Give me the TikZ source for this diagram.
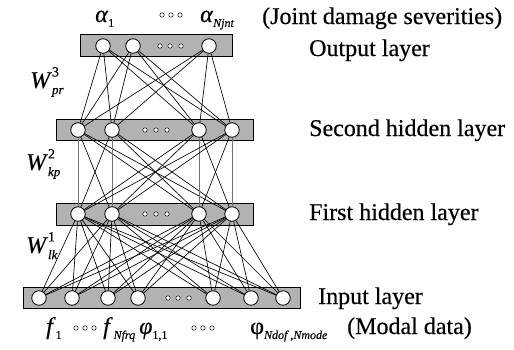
\documentclass[tikz,border=0pt]{standalone}
\usepackage{fontspec}
\setmainfont{Liberation Serif}[UprightFeatures={FakeBold=0.4},ItalicFeatures={FakeBold=0.4}]
% symbol with italic subscript
\newcommand{\symsub}[2]{#1\raisebox{-0.45ex}{\fontsize{12}{13}\selectfont\itshape #2}}
% weight symbol with stacked super- and subscript
\newcommand{\wsym}[2]{\textit{W}\makebox[0pt][l]{\raisebox{1.05ex}{\fontsize{14}{15}\selectfont #1}}\raisebox{-0.55ex}{\fontsize{13}{14}\selectfont\itshape #2}}
\begin{document}
\begin{tikzpicture}[x=1pt,y=-1pt,
  layerbox/.style={draw=black, line width=0.8pt, fill=black!30, inner sep=0pt},
  unit/.style={circle, draw=black, line width=0.8pt, fill=white, minimum size=14.5pt, inner sep=0pt},
  link/.style={line width=0.65pt},
  vlink/.style={line width=0.5pt, draw=black!55},
  ellip/.style={draw=black, line width=0.5pt, fill=white},
  lbl/.style={font=\fontsize{24}{28}\selectfont, anchor=base west, inner sep=0pt},
  mlbl/.style={font=\fontsize{24}{28}\selectfont, anchor=base west, inner sep=0pt}]
\useasboundingbox (0,0) rectangle (514,349);

% layer bars
\node[layerbox, minimum width=152pt, minimum height=22pt] (outbar) at (156,45) {};
\node[layerbox, minimum width=197pt, minimum height=21pt] (h2bar) at (154.5,129.5) {};
\node[layerbox, minimum width=197pt, minimum height=22pt] (h1bar) at (154.5,214) {};
\node[layerbox, minimum width=277pt, minimum height=21pt] (inbar) at (161.5,297.5) {};

% units
\foreach \x [count=\i] in {103,133,209} \node[unit] (o\i) at (\x,46) {};
\foreach \x [count=\i] in {78,112,199,232} \node[unit] (p\i) at (\x,130) {};
\foreach \x [count=\i] in {78,112,199,232} \node[unit] (k\i) at (\x,214) {};
\foreach \x [count=\i] in {39,72,108,138,213,251,283} \node[unit] (n\i) at (\x,298) {};

% ellipsis dots inside the bars
\foreach \x in {160,170,181} \draw[ellip] (\x,46) circle (2.2pt);
\foreach \x in {145,156,167} \draw[ellip] (\x,130) circle (2.2pt);
\foreach \x in {145,156,167} \draw[ellip] (\x,214) circle (2.2pt);
\foreach \x in {168,178,189} \draw[ellip] (\x,298) circle (2.2pt);

% connections
\foreach \a in {1,2,3} \foreach \b in {1,...,4} \draw[link] (o\a) -- (p\b);
\foreach \a in {1,...,4} \foreach \b in {1,...,4} {
  \ifnum\a=\b \draw[vlink] (p\a) -- (k\b); \else \draw[link] (p\a) -- (k\b); \fi
}
\foreach \a in {1,...,4} \foreach \b in {1,...,7} \draw[link] (k\a) -- (n\b);

% output labels
\node[mlbl] (a1) at (95,22) {\symsub{\textit{α}}{\upshape 1}};
\foreach \x in {162,171,180} \draw[ellip] (\x,15) circle (2.2pt);
\node[mlbl] (an) at (200,22) {\symsub{\textit{α}}{Njnt}};
\node[lbl] (tout) at (262,24) {(Joint damage severities)};

% layer names
\node[lbl] (lout) at (309,56) {Output layer};
\node[lbl] (lh2) at (309,136) {Second hidden layer};
\node[lbl] (lh1) at (309,220) {First hidden layer};
\node[lbl] (lin) at (318,304) {Input layer};

% weight labels
\node[mlbl] (w3) at (30,88) {\wsym{3}{pr}};
\node[mlbl] (w2) at (26,170) {\wsym{2}{kp}};
\node[mlbl] (w1) at (26,253) {\wsym{1}{lk}};

% input labels
\node[mlbl] (f1) at (46,334) {\symsub{\textit{f}}{\upshape 1}};
\foreach \x in {76,85,94} \draw[ellip] (\x,328) circle (2.2pt);
\node[mlbl] (fn) at (103,334) {\symsub{\textit{f}}{\hspace{1pt}Nfrq}};
\node[mlbl] (ph) at (139,334) {\symsub{\textit{φ}}{\upshape 1,1}};
\foreach \x in {194,203,212} \draw[ellip] (\x,328) circle (2.2pt);
\node[mlbl] (pn) at (250,334) {\symsub{φ}{Ndof ,Nmode}};
\node[lbl] (tin) at (347,334) {(Modal data)};
\end{tikzpicture}
\end{document}
